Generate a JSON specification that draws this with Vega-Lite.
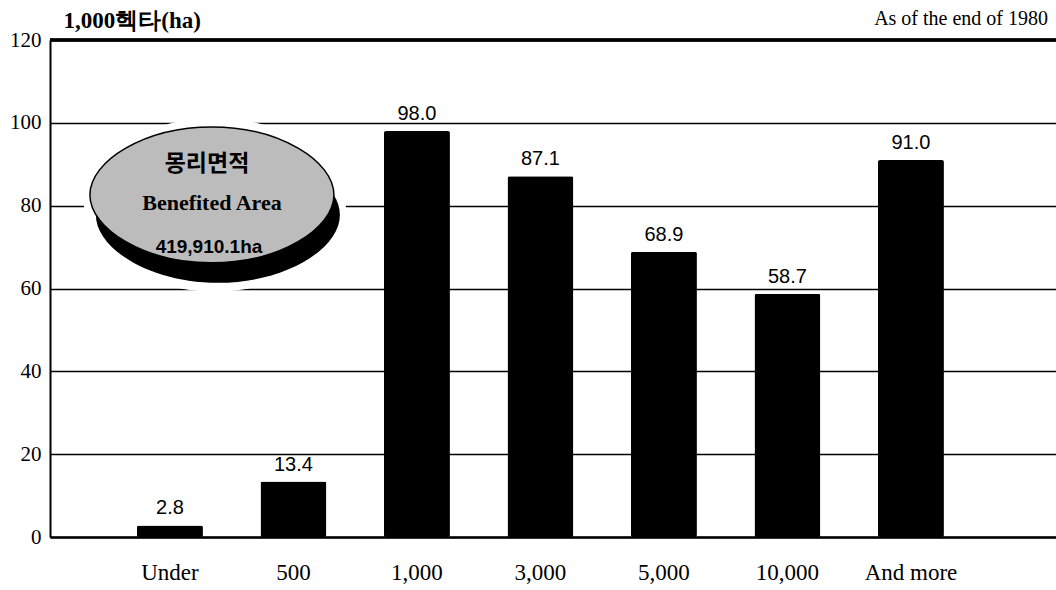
{
  "$schema": "https://vega.github.io/schema/vega-lite/v6.json",
  "width": 1006,
  "height": 497,
  "autosize": {"type": "none"},
  "padding": {"left": 50, "top": 40, "right": 0, "bottom": 53},
  "background": "white",
  "title": {"text": "As of the end of 1980", "anchor": "end", "frame": "group", "font": "Liberation Serif", "fontSize": 20, "fontWeight": "normal", "color": "black", "offset": -20, "dx": -8},
  "config": {"view": {"stroke": null}},
  "datasets": {
    "bars": [
      {"category": "Under", "value": 2.8},
      {"category": "500", "value": 13.4},
      {"category": "1,000", "value": 98.0},
      {"category": "3,000", "value": 87.1},
      {"category": "5,000", "value": 68.9},
      {"category": "10,000", "value": 58.7},
      {"category": "And more", "value": 91.0}
    ],
    "badge": [{"category": "Under", "value": 82.6}],
    "badgeText": [
      {"category": "Under", "value": 90.1, "text": "몽리면적"},
      {"category": "Under", "value": 80.7, "text": "Benefited Area"},
      {"category": "Under", "value": 69.9, "text": "419,910.1ha"}
    ]
  },
  "layer": [
    {
      "data": {"name": "bars"},
      "mark": {"type": "bar", "color": "black", "cornerRadius": 2},
      "encoding": {
        "x": {"field": "category", "type": "nominal", "sort": null,
          "scale": {"paddingInner": 0.466, "paddingOuter": 0.806, "align": 0.437},
          "axis": {"title": null, "labelAngle": 0, "labelFont": "Liberation Serif", "labelFontSize": 23, "labelColor": "black", "labelPadding": 24, "ticks": false, "domainColor": "black", "domainWidth": 2.5}},
        "y": {"field": "value", "type": "quantitative",
          "scale": {"domain": [0, 120], "nice": false},
          "axis": {"values": [0, 20, 40, 60, 80, 100, 120], "grid": true, "gridColor": "black", "gridWidth": 1.5, "gridOpacity": 1, "ticks": false, "domainColor": "black", "domainWidth": 2, "labelFont": "Liberation Serif", "labelFontSize": 21, "labelColor": "black", "labelPadding": 9,
            "title": "1,000헥타(ha)", "titleAngle": 0, "titleAlign": "left", "titleBaseline": "middle", "titleX": 13, "titleY": -20, "titleFont": "Liberation Serif", "titleFontSize": 23, "titleFontWeight": "bold", "titleColor": "black"}}
      }
    },
    {
      "data": {"name": "bars"},
      "mark": {"type": "rule", "color": "black", "strokeWidth": 2.5},
      "encoding": {"y": {"datum": 120}}
    },
    {
      "data": {"name": "bars"},
      "mark": {"type": "text", "font": "Liberation Sans", "fontSize": 20, "color": "black", "baseline": "alphabetic", "dy": -11},
      "encoding": {
        "x": {"field": "category", "type": "nominal", "sort": null},
        "y": {"field": "value", "type": "quantitative"},
        "text": {"field": "value", "type": "quantitative", "format": ".1f"}
      }
    },
    {
      "data": {"name": "badge"},
      "mark": {"type": "point", "filled": true, "color": "white", "opacity": 1, "size": 68644,
        "shape": "M -0.977 0.076 C -0.977 -0.254 -0.527 -0.588 0.023 -0.588 C 0.573 -0.588 1.023 -0.254 1.023 0.076 C 1.023 0.406 0.573 0.74 0.023 0.74 C -0.527 0.74 -0.977 0.406 -0.977 0.076 Z"},
      "encoding": {
        "x": {"field": "category", "type": "nominal", "sort": null, "bandPosition": 1.136},
        "y": {"field": "value", "type": "quantitative"}
      }
    },
    {
      "data": {"name": "badge"},
      "mark": {"type": "point", "filled": true, "color": "black", "opacity": 1, "size": 59536,
        "shape": "M -0.951 0.164 C -0.951 -0.116 -0.501 -0.393 0.049 -0.393 C 0.599 -0.393 1.049 -0.116 1.049 0.164 C 1.049 0.444 0.599 0.721 0.049 0.721 C -0.501 0.721 -0.951 0.444 -0.951 0.164 Z"},
      "encoding": {
        "x": {"field": "category", "type": "nominal", "sort": null, "bandPosition": 1.136},
        "y": {"field": "value", "type": "quantitative"}
      }
    },
    {
      "data": {"name": "badge"},
      "mark": {"type": "point", "filled": true, "fill": "#bcbcbc", "stroke": "black", "strokeWidth": 1.5, "opacity": 1, "size": 59536,
        "shape": "M -1 0 C -1 -0.28 -0.55 -0.557 0 -0.557 C 0.55 -0.557 1 -0.28 1 0 C 1 0.28 0.55 0.557 0 0.557 C -0.55 0.557 -1 0.28 -1 0 Z"},
      "encoding": {
        "x": {"field": "category", "type": "nominal", "sort": null, "bandPosition": 1.136},
        "y": {"field": "value", "type": "quantitative"}
      }
    },
    {
      "data": {"name": "badgeText"},
      "transform": [{"filter": "datum.text === '몽리면적'"}],
      "mark": {"type": "text", "font": "Noto Sans CJK KR", "fontSize": 23, "fontWeight": "bold", "color": "black", "dx": 37},
      "encoding": {
        "x": {"field": "category", "type": "nominal", "sort": null},
        "y": {"field": "value", "type": "quantitative"},
        "text": {"field": "text"}
      }
    },
    {
      "data": {"name": "badgeText"},
      "transform": [{"filter": "datum.text === 'Benefited Area'"}],
      "mark": {"type": "text", "font": "Liberation Serif", "fontSize": 22, "fontWeight": "bold", "color": "black", "dx": 42},
      "encoding": {
        "x": {"field": "category", "type": "nominal", "sort": null},
        "y": {"field": "value", "type": "quantitative"},
        "text": {"field": "text"}
      }
    },
    {
      "data": {"name": "badgeText"},
      "transform": [{"filter": "datum.text === '419,910.1ha'"}],
      "mark": {"type": "text", "font": "Liberation Sans", "fontSize": 19, "fontWeight": "bold", "color": "black", "dx": 39},
      "encoding": {
        "x": {"field": "category", "type": "nominal", "sort": null},
        "y": {"field": "value", "type": "quantitative"},
        "text": {"field": "text"}
      }
    }
  ]
}
